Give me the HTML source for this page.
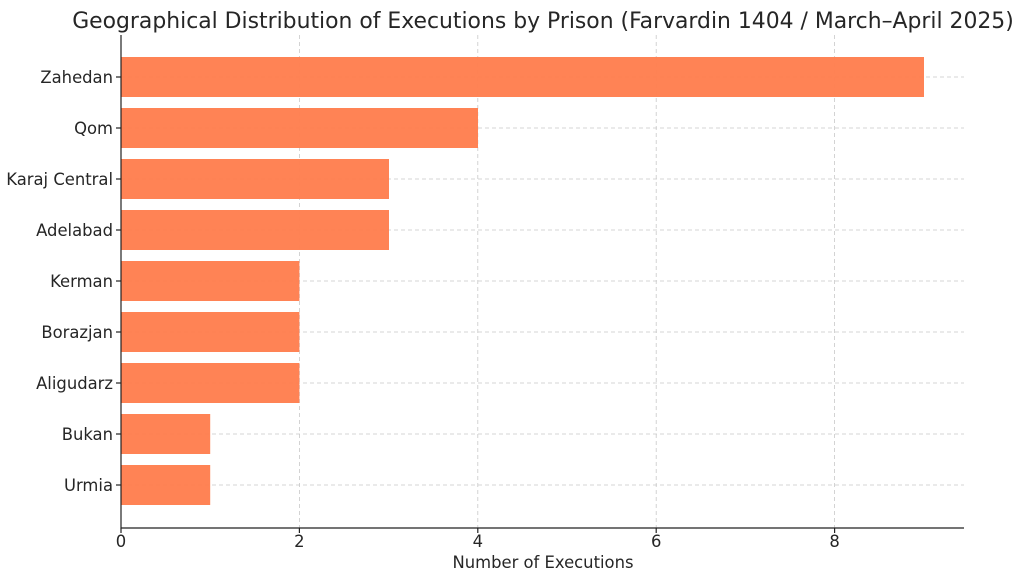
<!DOCTYPE html>
<html><head><meta charset="utf-8"><style>
html,body{margin:0;padding:0;background:#fff;}
svg text{font-family:"DejaVu Sans","Liberation Sans",sans-serif;fill:#262626;}
</style></head><body>
<svg width="1024" height="581" viewBox="0 0 1024 581" xmlns="http://www.w3.org/2000/svg">
<rect width="1024" height="581" fill="#fff"/>
<text x="543" y="28" font-size="21.9" text-anchor="middle" fill="#333">Geographical Distribution of Executions by Prison (Farvardin 1404 / March–April 2025)</text>
<g stroke="#c8c8c8" stroke-width="0.8" stroke-dasharray="4,3">
<line x1="299.4" y1="35" x2="299.4" y2="528"/>
<line x1="477.8" y1="35" x2="477.8" y2="528"/>
<line x1="656.2" y1="35" x2="656.2" y2="528"/>
<line x1="834.6" y1="35" x2="834.6" y2="528"/>
<line x1="121" y1="77" x2="964" y2="77"/>
<line x1="121" y1="128" x2="964" y2="128"/>
<line x1="121" y1="179" x2="964" y2="179"/>
<line x1="121" y1="230" x2="964" y2="230"/>
<line x1="121" y1="281" x2="964" y2="281"/>
<line x1="121" y1="332" x2="964" y2="332"/>
<line x1="121" y1="383" x2="964" y2="383"/>
<line x1="121" y1="434" x2="964" y2="434"/>
<line x1="121" y1="485" x2="964" y2="485"/>
</g>
<g fill="#ff7f50" fill-opacity="0.97">
<rect x="121" y="57" width="803" height="40"/>
<rect x="121" y="108" width="357" height="40"/>
<rect x="121" y="159" width="268" height="40"/>
<rect x="121" y="210" width="268" height="40"/>
<rect x="121" y="261" width="178.4" height="40"/>
<rect x="121" y="312" width="178.4" height="40"/>
<rect x="121" y="363" width="178.4" height="40"/>
<rect x="121" y="414" width="89.2" height="40"/>
<rect x="121" y="465" width="89.2" height="40"/>
</g>
<g stroke="#222" stroke-width="1.2">
<line x1="121" y1="35" x2="121" y2="528.5"/>
<line x1="120.5" y1="528" x2="964" y2="528"/>
<line x1="121" y1="528" x2="121" y2="533"/>
<line x1="299.4" y1="528" x2="299.4" y2="533"/>
<line x1="477.8" y1="528" x2="477.8" y2="533"/>
<line x1="656.2" y1="528" x2="656.2" y2="533"/>
<line x1="834.6" y1="528" x2="834.6" y2="533"/>
<line x1="116" y1="77" x2="121" y2="77"/>
<line x1="116" y1="128" x2="121" y2="128"/>
<line x1="116" y1="179" x2="121" y2="179"/>
<line x1="116" y1="230" x2="121" y2="230"/>
<line x1="116" y1="281" x2="121" y2="281"/>
<line x1="116" y1="332" x2="121" y2="332"/>
<line x1="116" y1="383" x2="121" y2="383"/>
<line x1="116" y1="434" x2="121" y2="434"/>
<line x1="116" y1="485" x2="121" y2="485"/>
</g>
<g font-size="16.4" text-anchor="middle">
<text x="121" y="547">0</text>
<text x="299.4" y="547">2</text>
<text x="477.8" y="547">4</text>
<text x="656.2" y="547">6</text>
<text x="834.6" y="547">8</text>
</g>
<text x="543" y="568" font-size="16.4" text-anchor="middle">Number of Executions</text>
<g font-size="16.4" text-anchor="end">
<text x="113" y="83">Zahedan</text>
<text x="113" y="134">Qom</text>
<text x="113" y="185">Karaj Central</text>
<text x="113" y="236">Adelabad</text>
<text x="113" y="287">Kerman</text>
<text x="113" y="338">Borazjan</text>
<text x="113" y="389">Aligudarz</text>
<text x="113" y="440">Bukan</text>
<text x="113" y="491">Urmia</text>
</g>
</svg>
</body></html>
